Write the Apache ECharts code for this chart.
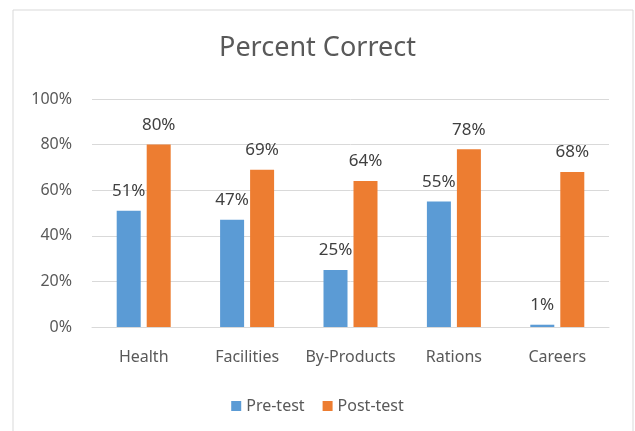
<!DOCTYPE html>
<html>
<head>
<meta charset="utf-8">
<script src="https://cdn.jsdelivr.net/npm/echarts@6/dist/echarts.min.js"></script>
<style>html,body{margin:0;padding:0;background:#fff;}#c{width:635px;height:431px;}</style>
</head>
<body>
<div id="c"></div>
<script>
const categories = ['Health', 'Facilities', 'By-Products', 'Rations', 'Careers'];
const preTest = [51, 47, 25, 55, 1];
const postTest = [80, 69, 64, 78, 68];
const yTicks = [0, 20, 40, 60, 80, 100];

const FONT = '"Noto Sans", sans-serif';
const chart = echarts.init(document.getElementById('c'), null, {renderer: 'canvas'});
const labelStyle = {
  show: true, position: 'top', distance: 11,
  formatter: p => p.value + '%', color: '#404040', fontSize: 17, fontFamily: FONT
};
chart.setOption({
  animation: false,
  graphic: [{
    type: 'rect', shape: {x: 13, y: 10, width: 620, height: 430},
    style: {fill: 'none', stroke: '#d9d9d9', lineWidth: 1}, silent: true, z: -1
  }],
  title: {
    text: 'Percent Correct', left: 'center', top: 30,
    textStyle: {color: '#595959', fontSize: 27, fontWeight: 'normal', fontFamily: FONT}
  },
  legend: {
    bottom: 12, left: 'center', itemWidth: 10, itemHeight: 10, itemGap: 18,
    icon: 'rect',
    textStyle: {color: '#595959', fontSize: 16, fontFamily: FONT},
    data: ['Pre-test', 'Post-test']
  },
  grid: {left: 92, right: 26, top: 99, bottom: 104, containLabel: false},
  xAxis: {
    type: 'category', data: categories,
    axisLine: {show: true, lineStyle: {color: '#d9d9d9'}},
    axisTick: {show: false},
    axisLabel: {color: '#595959', fontSize: 16, fontFamily: FONT, margin: 22, interval: 0}
  },
  yAxis: {
    type: 'value', min: 0, max: 100, interval: 20,
    axisLine: {show: false}, axisTick: {show: false},
    axisLabel: {color: '#595959', fontSize: 16, fontFamily: FONT, margin: 20,
      formatter: v => yTicks.includes(v) ? v + '%' : ''},
    splitLine: {lineStyle: {color: '#d9d9d9'}}
  },
  series: [
    {name: 'Pre-test', type: 'bar', data: preTest, barWidth: 24, barGap: '25%',
      itemStyle: {color: '#5b9bd5'}, label: labelStyle},
    {name: 'Post-test', type: 'bar', data: postTest, barWidth: 24,
      itemStyle: {color: '#ed7d31'}, label: labelStyle}
  ]
});
</script>
</body>
</html>
